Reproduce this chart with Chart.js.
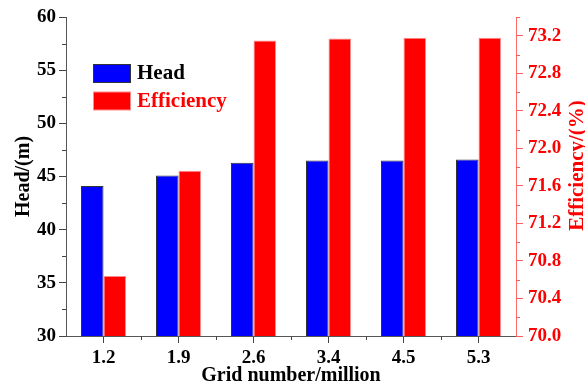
<!DOCTYPE html>
<html><head><meta charset="utf-8">
<script src="https://cdn.jsdelivr.net/npm/chart.js@4"></script>
<style>html,body{margin:0;padding:0;background:#fff;}</style>
</head><body>
<canvas id="c" width="585" height="385" style="width:585px;height:385px;display:block"></canvas>
<script>
const categories = ['1.2', '1.9', '2.6', '3.4', '4.5', '5.3'];
const headValues = [44.1, 45.1, 46.3, 46.5, 46.5, 46.6];
const efficiencyValues = [70.64, 71.76, 73.15, 73.17, 73.18, 73.18];
const headTicks = [30, 35, 40, 45, 50, 55, 60];
const headMinorTicks = [32.5, 37.5, 42.5, 47.5, 52.5, 57.5];
const effTicks = [70.0, 70.4, 70.8, 71.2, 71.6, 72.0, 72.4, 72.8, 73.2];
const effMinorTicks = [70.2, 70.6, 71.0, 71.4, 71.8, 72.2, 72.6, 73.0, 73.4];

const FONT = "'Liberation Serif', 'Times New Roman', serif";
const BLUE = '#0000ff', RED = '#ff0000';

const minorTickPlugin = {
  id: 'minorTicks',
  afterDraw(chart) {
    const ctx = chart.ctx;
    const sx = chart.scales.x, sy = chart.scales.y, sy1 = chart.scales.y1;
    const ca = chart.chartArea;
    const L = Math.round(ca.left), R = Math.round(ca.right), B = Math.round(ca.bottom);
    ctx.save();
    ctx.globalAlpha = 1;
    ctx.fillStyle = '#444';
    headMinorTicks.forEach(v => ctx.fillRect(L - 4, Math.round(sy.getPixelForValue(v)), 4, 1));
    for (let i = 0; i < categories.length - 1; i++) ctx.fillRect(Math.round(sx.getPixelForValue(i + 0.5)), B, 1, 4);
    ctx.fillStyle = '#ff5a5a';
    effMinorTicks.forEach(v => ctx.fillRect(R, Math.round(sy1.getPixelForValue(v)), 4, 1));
    // right title (reads bottom to top)
    ctx.fillStyle = RED;
    ctx.font = "bold 21px " + FONT;
    ctx.textAlign = 'center';
    ctx.textBaseline = 'middle';
    ctx.translate(sy1.right - 7, (ca.top + ca.bottom) / 2 - 11);
    ctx.rotate(-Math.PI / 2);
    ctx.fillText('Efficiency/(%)', 0, 0);
    ctx.restore();
    // legend
    ctx.save();
    const items = [
      {label: chart.data.datasets[0].label, fill: BLUE, stroke: '#333', text: '#000'},
      {label: chart.data.datasets[1].label, fill: RED, stroke: '#ff8a8a', text: RED}
    ];
    ctx.font = "bold 21px " + FONT;
    ctx.textBaseline = 'middle';
    ctx.textAlign = 'left';
    items.forEach((it, i) => {
      const bx = ca.left + 27, bt = ca.top + 47 + i * 27.5;
      ctx.fillStyle = it.stroke;
      ctx.fillRect(bx, bt, 38, 19);
      ctx.fillStyle = it.fill;
      ctx.fillRect(bx + 1, bt + 1, 36, 17);
      ctx.fillStyle = it.text;
      ctx.fillText(it.label, bx + 44, bt + 10);
    });
    ctx.restore();
  }
};

const tickFont = {family: FONT, size: 19, weight: 'bold'};

new Chart(document.getElementById('c'), {
  type: 'bar',
  data: {
    labels: categories,
    datasets: [
      {label: 'Head', data: headValues, yAxisID: 'y', backgroundColor: BLUE, borderColor: '#333', borderWidth: 1,
       categoryPercentage: 0.6, barPercentage: 1.0},
      {label: 'Efficiency', data: efficiencyValues, yAxisID: 'y1', backgroundColor: RED, borderColor: '#ff8a8a', borderWidth: 1,
       categoryPercentage: 0.6, barPercentage: 1.0}
    ]
  },
  options: {
    responsive: false,
    devicePixelRatio: 1,
    animation: false,
    layout: {padding: {top: 17, left: 0, right: 0, bottom: 0}},
    plugins: {legend: {display: false}, tooltip: {enabled: false}},
    scales: {
      x: {
        type: 'category', offset: true,
        grid: {display: true, drawOnChartArea: false, drawTicks: true, tickLength: 7, tickColor: '#444', tickWidth: 1, offset: false},
        border: {display: true, color: '#555', width: 1},
        ticks: {color: '#000', font: tickFont, padding: 4, maxRotation: 0},
        title: {display: true, text: 'Grid number/million', color: '#000', font: {family: FONT, size: 20, weight: 'bold'}, padding: {top: 0, bottom: -3}},
        afterFit(s) { s.height = 49; }
      },
      y: {
        position: 'left', min: 30, max: 60,
        grid: {display: true, drawOnChartArea: false, drawTicks: true, tickLength: 7, tickColor: '#444', tickWidth: 1},
        border: {display: true, color: '#555', width: 1},
        afterBuildTicks(s) { s.ticks = headTicks.map(v => ({value: v})); },
        ticks: {color: '#000', font: tickFont, padding: 3},
        title: {display: true, text: 'Head/(m)', color: '#000', font: {family: FONT, size: 20, weight: 'bold'}, padding: {top: 12, bottom: 0}},
        afterFit(s) { s.width = 66; }
      },
      y1: {
        position: 'right', min: 70, max: 73.4,
        grid: {display: true, drawOnChartArea: false, drawTicks: true, tickLength: 7, tickColor: '#ff5a5a', tickWidth: 1},
        border: {display: true, color: '#ff6a6a', width: 1},
        afterBuildTicks(s) { s.ticks = effTicks.map(v => ({value: v})); },
        ticks: {color: RED, font: tickFont, padding: 5, callback: v => Number(v).toFixed(1)},
        afterFit(s) { s.width = 69; }
      }
    }
  },
  plugins: [minorTickPlugin]
});
</script>
</body></html>
